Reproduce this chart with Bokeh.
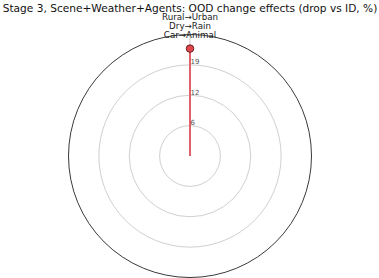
import numpy as np
from bokeh.plotting import figure
from bokeh.models import Label
from bokeh.core.properties import value
from bokeh.embed import file_html
from bokeh.resources import INLINE

# ---- data ----
title_text = "Stage 3, Scene+Weather+Agents: OOD change effects (drop vs ID, %)"
change_parts = ["Rural\u2192Urban", "Dry\u2192Rain", "Car\u2192Animal"]
drop_values = [22.1]          # one combined change axis
angles_deg = [0.0]            # axis at top
r_ticks = [6.25, 12.5, 18.75]
r_tick_labels = ["6", "12", "19"]
r_max = 25.0

# ---- layout ----
W, H = 379, 278
px_per_unit = 121.5 / r_max
cx_px, cy_px = 189.5, 155.5   # circle centre in figure pixels (from top-left)

FONT = "DejaVu Sans"

p = figure(width=W, height=H, output_backend="svg", toolbar_location=None,
           x_range=(-cx_px / px_per_unit, (W - cx_px) / px_per_unit),
           y_range=(-(H - cy_px) / px_per_unit, cy_px / px_per_unit),
           min_border=0, tools="")
p.axis.visible = False
p.grid.visible = False
p.outline_line_color = None
p.background_fill_color = "white"
p.border_fill_color = "white"

# grid circles
p.circle(x=[0] * len(r_ticks), y=[0] * len(r_ticks), radius=r_ticks,
         fill_color=None, line_color="#d0d0d0", line_width=1)
# outer spine
p.circle(x=[0], y=[0], radius=[r_max], fill_color=None,
         line_color="#3a3a3a", line_width=1)

theta = np.deg2rad(np.array(angles_deg))
# angular grid line
p.segment(x0=[0] * len(theta), y0=[0] * len(theta),
          x1=list(r_max * np.sin(theta)), y1=list(r_max * np.cos(theta)),
          line_color="#c8c8c8", line_width=1)

# data
vals = np.array(drop_values)
px = vals * np.sin(theta)
py = vals * np.cos(theta)
p.segment(x0=[0] * len(vals), y0=[0] * len(vals), x1=list(px), y1=list(py),
          line_color="#e0636b", line_width=2)
p.scatter(x=list(px), y=list(py), size=7.5, fill_color="#e0474c",
          line_color="#6b1f1f", line_width=1)

# radial tick labels
p.text(x=[0] * len(r_ticks), y=r_ticks, text=r_tick_labels,
       x_offset=0.5, y_offset=-3.5, text_align="left", text_baseline="middle",
       text_font=value(FONT), text_font_size="7px", text_color="#555555")

# category label (stacked lines) above the axis
n = len(change_parts)
line_h = 9.2
offsets = [0.5 - (n - 1 - i) * line_h for i in range(n)]
p.text(x=[0] * n, y=[r_max] * n, text=change_parts, y_offset=offsets,
       text_align="center", text_baseline="middle",
       text_font=value(FONT), text_font_size="8.7px", text_color="#222222")

# title
p.add_layout(Label(x=cx_px, y=H - 1, x_units="screen", y_units="screen",
                   text=title_text, text_align="center", text_baseline="top",
                   text_font=FONT, text_font_size="10.6px", text_color="#111111"))

open("out.html", "w").write(file_html(p, INLINE))
